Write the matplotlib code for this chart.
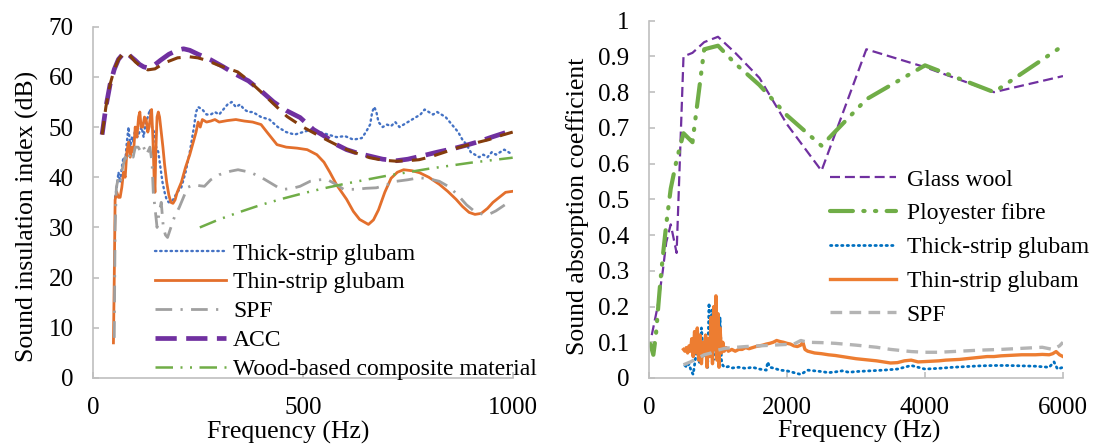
import matplotlib
matplotlib.use("Agg")
import matplotlib.pyplot as plt

plt.rcParams['font.family'] = ['Liberation Serif', 'DejaVu Serif']

# ---------------- Left panel data (Sound insulation index, dB) ----------------
thick_f = [52, 56, 60, 64, 68, 72, 76, 80, 84, 88, 92, 96, 100, 105, 110, 115, 120, 125, 130, 135,
           140, 145, 150, 155, 160, 165, 170, 175, 180, 190, 200, 210, 220, 230, 240, 245, 250, 260,
           270, 280, 290, 300, 310, 320, 330, 340, 350, 360, 370, 380, 390, 400, 420, 440, 460, 480,
           500, 520, 540, 560, 580, 600, 620, 640, 650, 660, 665, 670, 675, 680, 690, 700, 710, 720,
           730, 740, 750, 760, 770, 780, 790, 800, 810, 820, 830, 840, 850, 860, 870, 880, 890, 900,
           910, 920, 930, 940, 950, 960, 970, 980, 990, 1000]
thick_db = [36, 38, 41, 39, 42, 44, 43, 47, 50, 46, 48, 47, 50, 48, 49, 50, 48, 51, 52, 53.5,
            50, 49, 46, 45, 42, 39, 37, 35.5, 35, 35.5, 37, 38, 41, 45, 50, 53, 54, 53.5,
            52.5, 52.5, 53, 52.5, 53.5, 54.5, 55, 54, 54.5, 53.5, 53, 53, 52.5, 52, 51.5, 50, 49, 48.5,
            49, 49.5, 49, 48.5, 48, 48.2, 47.5, 47.8, 49, 50.5, 53, 54, 53, 51, 50, 50.5, 50.2, 51,
            50, 50.5, 51, 51.5, 52, 52.5, 53.5, 53, 52.5, 53, 52.5, 52, 51, 50, 49, 47.5, 46.5, 45,
            44.5, 44, 44.5, 44, 45, 44.5, 45, 45.5, 45, 44.5]

thin_f = [48, 50, 52, 56, 60, 64, 68, 72, 76, 80, 84, 88, 92, 96, 100, 104, 108, 111, 114, 118,
          122, 126, 130, 133, 136, 139, 142, 145, 147, 149, 152, 155, 158, 162, 166, 170, 175, 180,
          185, 190, 195, 200, 210, 220, 230, 240, 245, 250, 255, 260, 270, 280, 290, 300, 320, 340,
          360, 380, 400, 415, 438, 460, 486, 510, 533, 550, 564, 580, 604, 620, 635, 656, 668, 680,
          695, 710, 725, 740, 760, 778, 800, 825, 845, 865, 880, 896, 910, 925, 940, 953, 968, 983, 1000]
thin_db = [7, 20, 35.5, 37, 36, 36, 38, 41, 40, 45, 47, 44, 46, 45, 50, 48, 52, 53, 50, 50,
           52, 51.5, 49, 50, 52, 53.5, 48, 40, 37, 45, 52, 53, 52, 49, 46, 42.5, 39, 36.5,
           35, 34.8, 35.5, 37, 39, 42, 44.5, 47.5, 49, 51, 50, 51.5, 51, 51.2, 51.5, 51, 51.3, 51.5,
           51.2, 51, 50.5, 48.9, 46.5, 46, 45.8, 45.5, 44.5, 43, 41, 38.5, 35.6, 33.2, 31.6, 30.6, 31.5, 33.5,
           37, 39.8, 41, 41.5, 41.3, 40.9, 40, 38.6, 37.2, 35.6, 34.2, 33, 32.6, 32.8, 33.8, 35, 36, 37, 37.2]

spf_f = [50, 52, 55, 60, 65, 70, 76, 82, 88, 95, 100, 107, 114, 120, 127, 135, 140, 143, 147, 152,
         157, 162, 167, 172, 177, 185, 194, 205, 215, 225, 240, 255, 265, 280, 300, 327, 345, 374, 400,
         422, 440, 455, 475, 493, 517, 540, 557, 580, 597, 628, 650, 675, 700, 723, 750, 777, 800, 825,
         850, 872, 890, 912, 930, 943, 960, 983, 1000]
spf_db = [8, 30, 38, 40, 39, 42, 44, 43, 45, 44, 46, 46, 45, 46, 44.5, 46, 43, 37, 34, 30,
          33, 35, 30, 28.5, 28, 30, 32.2, 34, 36, 38, 38.5, 38.3, 38.2, 39.5, 40.5, 41.2, 41.5, 41, 40,
          38.9, 38, 37.6, 37.8, 38.2, 39.2, 39.5, 39.6, 38.5, 37.6, 37.6, 37.8, 37.9, 38.5, 39.2, 39.5, 39.9, 39.7, 39.2,
          38, 36.2, 34.5, 33, 32.6, 32.6, 33.3, 34.6, 34.5]

acc_f = [21, 30, 40, 50, 60, 70, 80, 90, 100, 110, 120, 130, 145, 160, 180, 200, 215, 230, 250, 280,
         310, 340, 370, 400, 430, 460, 493, 525, 557, 580, 604, 630, 660, 690, 723, 750, 786, 820, 858,
         890, 919, 950, 983, 1000]
acc_db = [48.5, 54, 58.5, 61.5, 63.5, 64.5, 64.8, 64, 63.3, 62.5, 62, 61.8, 62.3, 63.3, 64.5, 65.3, 65.6, 65.3, 64.5, 63.4,
          62, 60.5, 59.2, 57.2, 55, 53.3, 51.9, 49.5, 47.9, 46.5, 45.5, 44.8, 44.2, 43.6, 43.3, 43.6, 44.3, 45, 45.7,
          46.4, 47.1, 48, 48.9, 49.3]

brown_f = [21, 30, 40, 50, 60, 70, 80, 90, 100, 115, 130, 147, 170, 201, 230, 249, 270, 296, 320, 344,
           370, 400, 430, 462, 500, 533, 560, 588, 620, 659, 690, 723, 750, 777, 805, 834, 870, 905, 943,
           975, 1000]
brown_db = [48.5, 54, 58.5, 61.5, 63.5, 64.5, 64.8, 64, 63, 62, 61.4, 61.6, 62.8, 63.8, 64, 63.8, 63.3, 62.4, 61.7, 61,
            59.3, 57, 54.6, 52.1, 50, 48.5, 47.3, 46.1, 45, 43.9, 43.4, 43.2, 43.3, 43.5, 44.1, 44.9, 45.9, 46.7, 47.5,
            48.4, 49]

wood_f = [254, 300, 350, 400, 450, 500, 550, 600, 650, 700, 750, 800, 850, 900, 950, 1000]
wood_db = [30, 31.6, 33.1, 34.5, 35.7, 36.8, 37.8, 38.7, 39.5, 40.3, 41, 41.7, 42.3, 42.9, 43.4, 43.9]

left_yticks = [0, 10, 20, 30, 40, 50, 60, 70]
left_xticks = [0, 500, 1000]

# ---------------- Right panel data (Sound absorption coefficient) ----------------
glass_f = [40, 125, 200, 250, 315, 400, 500, 630, 800, 1000, 1250, 1600, 2000, 2500, 3150, 4000, 5000, 6000]
glass_a = [0.12, 0.2, 0.3, 0.38, 0.43, 0.35, 0.9, 0.91, 0.94, 0.955, 0.91, 0.84, 0.71, 0.58, 0.92, 0.87, 0.80, 0.845]

poly_f = [20, 63, 100, 160, 200, 250, 315, 400, 500, 630, 800, 1000, 1250, 1600, 2000, 2500, 3150, 4000, 5000, 6000]
poly_a = [0.095, 0.065, 0.12, 0.26, 0.34, 0.43, 0.53, 0.61, 0.685, 0.66, 0.92, 0.93, 0.88, 0.82, 0.735, 0.65, 0.78, 0.875, 0.80, 0.93]

thickR_f = [520, 550, 580, 610, 640, 670, 700, 730, 760, 790, 820, 850, 870, 890, 910, 930, 950, 970, 990, 1010,
            1030, 1050, 1070, 1100, 1150, 1200, 1300, 1400, 1500, 1600, 1700, 1720, 1750, 1800, 1900, 2000, 2100,
            2200, 2300, 2400, 2500, 2600, 2700, 2800, 2900, 3000, 3200, 3400, 3600, 3800, 4000, 4200, 4400, 4600,
            4800, 5000, 5200, 5400, 5600, 5800, 5870, 5920, 6000]
thickR_a = [0.035, 0.03, 0.04, 0.02, 0.01, 0.05, 0.09, 0.04, 0.14, 0.06, 0.12, 0.03, 0.21, 0.08, 0.19, 0.05, 0.18, 0.07, 0.16, 0.04,
            0.17, 0.05, 0.035, 0.03, 0.032, 0.028, 0.03, 0.027, 0.03, 0.025, 0.022, 0.045, 0.03, 0.028, 0.022, 0.02, 0.015,
            0.01, 0.022, 0.02, 0.018, 0.015, 0.017, 0.02, 0.016, 0.018, 0.02, 0.022, 0.025, 0.035, 0.025, 0.027, 0.03, 0.032,
            0.034, 0.035, 0.035, 0.034, 0.033, 0.03, 0.045, 0.025, 0.03]

thinR_f = [500, 520, 540, 560, 580, 600, 620, 640, 660, 680, 700, 720, 740, 760, 780, 800, 820, 840, 860, 880,
           900, 920, 940, 955, 970, 985, 1000, 1015, 1030, 1050, 1070, 1090, 1120, 1150, 1200, 1250, 1300, 1350,
           1400, 1450, 1500, 1550, 1600, 1650, 1700, 1750, 1800, 1850, 1900, 1950, 2000, 2050, 2100, 2150, 2200,
           2230, 2260, 2300, 2400, 2500, 2600, 2700, 2800, 2900, 3000, 3100, 3200, 3300, 3400, 3500, 3600, 3700,
           3800, 3900, 4000, 4100, 4200, 4300, 4400, 4500, 4600, 4700, 4800, 4900, 5000, 5100, 5200, 5300, 5400,
           5500, 5600, 5700, 5800, 5850, 5900, 5950, 6000]
thinR_a = [0.08, 0.075, 0.085, 0.07, 0.09, 0.075, 0.11, 0.06, 0.13, 0.07, 0.14, 0.05, 0.12, 0.04, 0.10, 0.07, 0.12, 0.03, 0.11, 0.06,
           0.17, 0.04, 0.20, 0.08, 0.23, 0.05, 0.18, 0.03, 0.14, 0.07, 0.10, 0.075, 0.085, 0.075, 0.08, 0.075, 0.08, 0.08,
           0.085, 0.082, 0.085, 0.088, 0.09, 0.092, 0.095, 0.097, 0.1, 0.105, 0.102, 0.1, 0.097, 0.095, 0.09, 0.088, 0.092,
           0.1, 0.08, 0.075, 0.07, 0.068, 0.065, 0.063, 0.06, 0.057, 0.054, 0.052, 0.05, 0.048, 0.045, 0.042, 0.043, 0.048,
           0.05, 0.045, 0.046, 0.047, 0.048, 0.05, 0.051, 0.052, 0.054, 0.056, 0.058, 0.06, 0.06, 0.062, 0.063, 0.064, 0.065,
           0.065, 0.065, 0.066, 0.065, 0.068, 0.074, 0.065, 0.06]

spfR_f = [500, 600, 700, 800, 900, 1000, 1100, 1200, 1400, 1600, 1800, 2000, 2100, 2200, 2300, 2500, 2700, 3000,
          3300, 3500, 3800, 4000, 4200, 4500, 4800, 5100, 5400, 5700, 5850, 5950, 6000]
spfR_a = [0.037, 0.045, 0.055, 0.065, 0.07, 0.078, 0.083, 0.085, 0.088, 0.09, 0.092, 0.094, 0.095, 0.105, 0.1, 0.099,
          0.097, 0.092, 0.086, 0.08, 0.074, 0.072, 0.072, 0.075, 0.078, 0.08, 0.083, 0.086, 0.08, 0.09, 0.1]

right_yticks = [0, 0.1, 0.2, 0.3, 0.4, 0.5, 0.6, 0.7, 0.8, 0.9, 1.0]
right_yticklabels = ['0', '0.1', '0.2', '0.3', '0.4', '0.5', '0.6', '0.7', '0.8', '0.9', '1']
right_xticks = [0, 2000, 4000, 6000]

# ---------------- Figure ----------------
W, H = 1096, 445
fig = plt.figure(figsize=(W / 100, H / 100), dpi=100)


def px_axes(x0, x1, ytop, ybot):
    return fig.add_axes([x0 / W, (H - ybot) / H, (x1 - x0) / W, (ybot - ytop) / H])


axL = px_axes(93.3, 512.7, 26.7, 378)
axR = px_axes(649, 1063, 20.7, 378)

TICK_FS = 18
LABEL_FS = 18.5
LEG_FS = 17
GRAY = '#BFBFBF'

for ax in (axL, axR):
    for s in ('top', 'right'):
        ax.spines[s].set_visible(False)
    for s in ('left', 'bottom'):
        ax.spines[s].set_color(GRAY)
        ax.spines[s].set_linewidth(1.2)
    ax.tick_params(direction='in', length=4.5, width=1.2, color=GRAY, labelsize=TICK_FS, pad=14)

# Left panel
axL.plot(thick_f, thick_db, color='#4472C4', lw=1.7, linestyle=(0, (0.6, 1.6)), dash_capstyle='round',
         label='Thick-strip glubam')
axL.plot(thin_f, thin_db, color='#E36F2C', lw=2.0, label='Thin-strip glubam')
axL.plot(spf_f, spf_db, color='#A0A0A0', lw=2.0, linestyle=(0, (6, 3, 0.8, 3)), label='SPF')
axL.plot(acc_f, acc_db, color='#7030A0', lw=3.4, linestyle=(0, (4.5, 2)), label='ACC')
axL.plot(brown_f, brown_db, color='#843C0C', lw=2.2, linestyle=(0, (4.5, 3)))
axL.plot(wood_f, wood_db, color='#70AD47', lw=1.8, linestyle=(0, (7, 3, 0.8, 3, 0.8, 3)),
         label='Wood-based composite material')
axL.set_xlim(0, 1000)
axL.set_ylim(0, 70)
axL.set_xticks(left_xticks)
axL.set_yticks(left_yticks)
axL.set_xlabel('Frequency (Hz)', fontsize=LABEL_FS)
axL.set_ylabel('Sound insulation index (dB)', fontsize=LABEL_FS, va='center')
axL.xaxis.set_label_coords(0.464, -0.154)
axL.xaxis.label.set_va('center')
axL.yaxis.set_label_coords(-0.156, 0.46)

axL.legend(loc='upper left', bbox_to_anchor=(155 / W, 1 - 243 / H), bbox_transform=fig.transFigure,
           frameon=False, fontsize=LEG_FS, borderpad=0, borderaxespad=0, handlelength=3.0,
           handletextpad=0.3, labelspacing=0.31)

# Right panel
axR.plot(glass_f, glass_a, color='#7030A0', lw=1.6, linestyle=(0, (4.5, 2.2)), label='Glass wool')
axR.plot(poly_f, poly_a, color='#70AD47', lw=3.0, linestyle=(0, (5.5, 2.5, 0.3, 2.5, 0.3, 2.5)),
         dash_capstyle='round', label='Ployester fibre')
axR.plot(thickR_f, thickR_a, color='#0070C0', lw=2.0, linestyle=(0, (0.5, 1.5)), dash_capstyle='round',
         label='Thick-strip glubam')
axR.plot(thinR_f, thinR_a, color='#ED7D31', lw=2.4, label='Thin-strip glubam')
axR.plot(spfR_f, spfR_a, color='#B4B4B4', lw=2.4, linestyle=(0, (3.5, 2.2)), label='SPF')
axR.set_xlim(0, 6000)
axR.set_ylim(0, 1)
axR.set_xticks(right_xticks)
axR.set_yticks(right_yticks)
axR.set_yticklabels(right_yticklabels)
axR.set_xlabel('Frequency (Hz)', fontsize=LABEL_FS)
axR.set_ylabel('Sound absorption coefficient', fontsize=LABEL_FS, va='center')
axR.xaxis.set_label_coords(0.507, -0.151)
axR.xaxis.label.set_va('center')
axR.yaxis.set_label_coords(-0.172, 0.48)

axR.legend(loc='upper left', bbox_to_anchor=(830 / W, 1 - 169 / H), bbox_transform=fig.transFigure,
           frameon=False, fontsize=LEG_FS, borderpad=0, borderaxespad=0, handlelength=2.8,
           handletextpad=0.45, labelspacing=0.52)

fig.savefig('out.png', dpi=100)
